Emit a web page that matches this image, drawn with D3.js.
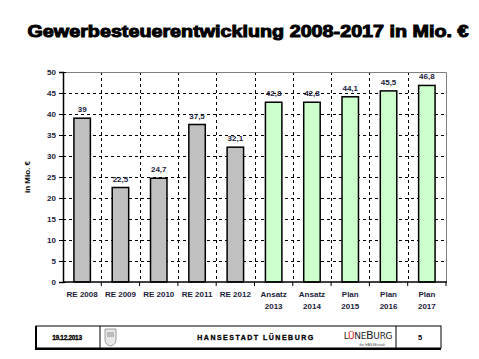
<!DOCTYPE html>
<html>
<head>
<meta charset="utf-8">
<script src="https://cdn.jsdelivr.net/npm/d3@7"></script>
<style>
  body { margin: 0; background: #fff; }
  svg { display: block; font-family: "Liberation Sans", Arial, sans-serif; }
</style>
</head>
<body>
<div id="container"></div>
<script>
// ---- data ----
var categories = ["RE 2008", "RE 2009", "RE 2010", "RE 2011", "RE 2012",
                  "Ansatz 2013", "Ansatz 2014", "Plan 2015", "Plan 2016", "Plan 2017"];
var labelLines = [["RE 2008"], ["RE 2009"], ["RE 2010"], ["RE 2011"], ["RE 2012"],
                  ["Ansatz", "2013"], ["Ansatz", "2014"], ["Plan", "2015"], ["Plan", "2016"], ["Plan", "2017"]];
var values = [39, 22.5, 24.7, 37.5, 32.1, 42.8, 42.8, 44.1, 45.5, 46.8];
var kinds = ["ist", "ist", "ist", "ist", "ist", "plan", "plan", "plan", "plan", "plan"];
var yTicks = [0, 5, 10, 15, 20, 25, 30, 35, 40, 45, 50];

const width = 479, height = 359;
const plotL = 63, plotR = 446, plotT = 72, plotB = 282;

const svg = d3.select("#container").append("svg")
    .attr("width", width)
    .attr("height", height);

// title
svg.append("text")
    .attr("x", 248).attr("y", 37)
    .attr("text-anchor", "middle")
    .attr("font-size", 17)
    .attr("font-weight", "bold")
    .attr("stroke", "#000").attr("stroke-width", 1)
    .attr("textLength", 441).attr("lengthAdjust", "spacingAndGlyphs")
    .text("Gewerbesteuerentwicklung 2008-2017 in Mio. €");

// scales
const x = d3.scaleBand().domain(categories).range([plotL, plotR]).paddingInner(0).paddingOuter(0);
const y = d3.scaleLinear().domain([0, 50]).range([plotB, plotT]);

// grid
const grid = svg.append("g");
grid.selectAll("line.h")
    .data(yTicks.filter(d => d > 0 && d < 50))
    .enter().append("line")
    .attr("x1", plotL).attr("x2", plotR)
    .attr("y1", d => Math.round(y(d)) + 0.5).attr("y2", d => Math.round(y(d)) + 0.5)
    .attr("stroke", "#000").attr("stroke-width", 1)
    .attr("stroke-dasharray", "3,3");
grid.selectAll("line.v")
    .data(categories.slice(1))
    .enter().append("line")
    .attr("x1", d => Math.round(x(d)) + 0.5).attr("x2", d => Math.round(x(d)) + 0.5)
    .attr("y1", plotT).attr("y2", plotB)
    .attr("stroke", "#000").attr("stroke-width", 1)
    .attr("stroke-dasharray", "3,3");

// plot frame top/right
svg.append("path")
    .attr("d", "M" + plotL + "," + (plotT + 0.5) + "H" + (plotR + 0.5) + "V" + plotB)
    .attr("fill", "none").attr("stroke", "#808080").attr("stroke-width", 1);

// bars
const bw = x.bandwidth() * 0.43;
svg.selectAll("rect.bar")
    .data(values)
    .enter().append("rect")
    .attr("x", (d, i) => x(categories[i]) + (x.bandwidth() - bw) / 2)
    .attr("y", d => y(d))
    .attr("width", bw)
    .attr("height", d => plotB - y(d))
    .attr("fill", (d, i) => kinds[i] == "ist" ? "#c0c0c0" : "#ccffcc")
    .attr("stroke", "#000").attr("stroke-width", 1.5);

// value labels
svg.selectAll("text.val")
    .data(values)
    .enter().append("text")
    .attr("x", (d, i) => x(categories[i]) + x.bandwidth() / 2)
    .attr("y", d => y(d) - 6)
    .attr("text-anchor", "middle")
    .attr("font-size", 8).attr("font-weight", "bold")
    .attr("fill", "#1c1c3c")
    .text(d => String(d).replace(".", ","));

// y axis
const yAxis = d3.axisLeft(y).tickValues(yTicks).tickSize(4).tickPadding(3);
const gy = svg.append("g").attr("transform", "translate(" + plotL + ",0)").call(yAxis);
gy.select(".domain").attr("stroke", "#000").attr("stroke-width", 1.5);
gy.selectAll(".tick line").attr("x2", -4).attr("x1", 3).attr("stroke", "#000");
gy.selectAll(".tick text")
    .attr("font-size", 8).attr("font-weight", "bold")
    .attr("font-family", "Liberation Sans, Arial, sans-serif")
    .attr("fill", "#1c1c3c");

// x axis
svg.append("line")
    .attr("x1", plotL).attr("x2", plotR + 1)
    .attr("y1", plotB).attr("y2", plotB)
    .attr("stroke", "#000").attr("stroke-width", 1.5);
svg.selectAll("line.xt")
    .data(categories)
    .enter().append("line")
    .attr("x1", d => x(d) + x.bandwidth()).attr("x2", d => x(d) + x.bandwidth())
    .attr("y1", plotB).attr("y2", plotB + 4)
    .attr("stroke", "#000");

const xl = svg.selectAll("text.xl")
    .data(labelLines)
    .enter().append("text")
    .attr("text-anchor", "middle")
    .attr("font-size", 8).attr("font-weight", "bold")
    .attr("fill", "#1c1c3c");
xl.selectAll("tspan")
    .data((d, i) => d.map(s => ({s: s, c: categories[i]})))
    .enter().append("tspan")
    .attr("x", d => x(d.c) + x.bandwidth() / 2)
    .attr("y", (d, j) => 297 + j * 11.5)
    .text(d => d.s);

// y axis title
svg.append("text")
    .attr("transform", "translate(30," + ((plotT + plotB) / 2) + ") rotate(-90)")
    .attr("text-anchor", "middle")
    .attr("font-size", 8).attr("font-weight", "bold")
    .text("in Mio. €");

// ---- footer ----
const foot = svg.append("g");
foot.append("rect")
    .attr("x", 36).attr("y", 326).attr("width", 405).attr("height", 22)
    .attr("fill", "#fff").attr("stroke", "#000").attr("stroke-width", 1);
foot.append("path")
    .attr("d", "M36,326V349H441")
    .attr("fill", "none").attr("stroke", "#000").attr("stroke-width", 2);
[100, 396].forEach(function(px) {
  foot.append("line")
      .attr("x1", px).attr("x2", px).attr("y1", 326).attr("y2", 348)
      .attr("stroke", "#000").attr("stroke-width", 1);
});
foot.append("text")
    .attr("x", 67).attr("y", 340)
    .attr("text-anchor", "middle")
    .attr("font-size", 6.5).attr("font-weight", "bold")
    .attr("stroke", "#000").attr("stroke-width", 0.3)
    .attr("letter-spacing", -0.3)
    .text("19.12.2013");
// small crest
foot.append("path")
    .attr("d", "M105,329H116V339Q116,345 110.5,346Q105,345 105,339Z")
    .attr("fill", "#e8e8e8").attr("stroke", "#888").attr("stroke-width", 0.8);
foot.append("rect")
    .attr("x", 107).attr("y", 332).attr("width", 7).attr("height", 5)
    .attr("fill", "#bbb");
foot.append("text")
    .attr("x", 256).attr("y", 340)
    .attr("text-anchor", "middle")
    .attr("font-size", 7).attr("font-weight", "bold")
    .attr("stroke", "#000").attr("stroke-width", 0.3)
    .attr("letter-spacing", 1.5)
    .text("HANSESTADT LÜNEBURG");
// Lüneburg logo
foot.append("text")
    .attr("x", 368).attr("y", 339)
    .attr("text-anchor", "middle")
    .attr("font-size", 9)
    .attr("font-family", "DejaVu Sans, sans-serif")
    .attr("letter-spacing", -0.3)
    .attr("fill", "#222")
    .html("L<tspan fill='#d01010'>Ü</tspan>NE<tspan font-size='11'>B</tspan>URG");
foot.append("text")
    .attr("x", 372).attr("y", 345.5)
    .attr("text-anchor", "middle")
    .attr("font-size", 3.5)
    .attr("fill", "#555")
    .text("die HANSEstadt");
foot.append("text")
    .attr("x", 420).attr("y", 340)
    .attr("text-anchor", "middle")
    .attr("font-size", 7.5).attr("font-weight", "bold")
    .text("5");
</script>
</body>
</html>
